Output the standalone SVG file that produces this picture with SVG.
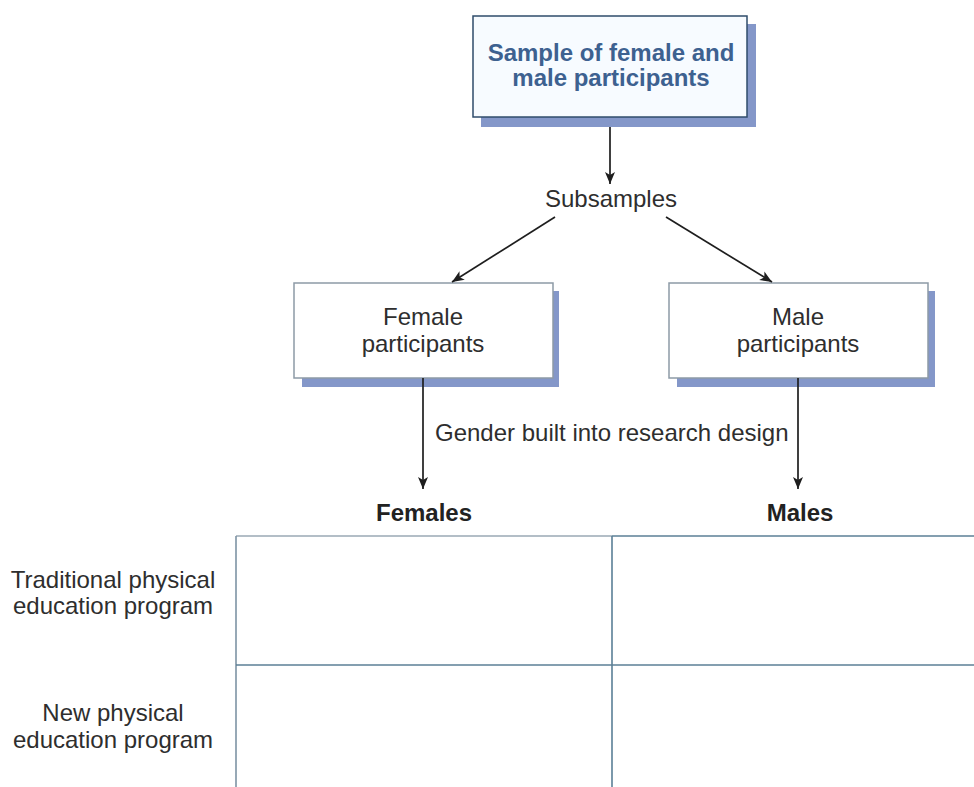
<svg xmlns="http://www.w3.org/2000/svg" width="974" height="787" viewBox="0 0 974 787">
<style>
  text { font-family: "Liberation Sans", Arial, sans-serif; fill: #2e2e2e; }
  .t { font-size: 24px; text-anchor: middle; }
  .title { font-size: 24px; font-weight: bold; fill: #3d6190; text-anchor: middle; }
  .hdr { font-size: 24px; font-weight: bold; text-anchor: middle; fill: #222; }
  .shadow { fill: #8497c9; }
  .box { fill: #ffffff; stroke: #8d9aa6; stroke-width: 1.5; }
  .topbox { fill: #f7fbff; stroke: #2f4c6b; stroke-width: 1.5; }
  .conn { stroke: #1e1e1e; stroke-width: 1.7; fill: none; marker-end: url(#arr); }
  .grid { stroke: #5b7f96; stroke-width: 1.6; fill: none; }
</style>
<defs>
  <marker id="arr" markerWidth="14" markerHeight="14" refX="12" refY="6" orient="auto" markerUnits="userSpaceOnUse">
    <path d="M0,1 L12,6 L0,11 L3,6 Z" fill="#1e1e1e"/>
  </marker>
</defs>
<rect width="974" height="787" fill="#ffffff"/>

<g id="sample">
  <rect class="shadow" x="481" y="24" width="275" height="103"/>
  <rect class="topbox" x="473" y="16" width="274" height="101"/>
  <text class="title" x="611" y="61">Sample of female and</text>
  <text class="title" x="611" y="86">male participants</text>
</g>

<g id="subsamples">
  <text class="t" x="611" y="207">Subsamples</text>
</g>

<g id="female">
  <rect class="shadow" x="302" y="291" width="257" height="96"/>
  <rect class="box" x="294" y="283" width="259" height="95"/>
  <text class="t" x="423" y="325">Female</text>
  <text class="t" x="423" y="352">participants</text>
</g>

<g id="male">
  <rect class="shadow" x="677" y="291" width="258" height="96"/>
  <rect class="box" x="669" y="283" width="259" height="95"/>
  <text class="t" x="798" y="325">Male</text>
  <text class="t" x="798" y="352">participants</text>
</g>

<g id="gender-label">
  <text x="435" y="441" style="font-size:24px">Gender built into research design</text>
</g>

<g id="females-header"><text class="hdr" x="424" y="521">Females</text></g>
<g id="males-header"><text class="hdr" x="800" y="521">Males</text></g>

<g id="row1-label">
  <text class="t" x="113" y="588">Traditional physical</text>
  <text class="t" x="113" y="614">education program</text>
</g>
<g id="row2-label">
  <text class="t" x="113" y="721">New physical</text>
  <text class="t" x="113" y="748">education program</text>
</g>

<g id="table">
  <line class="grid" x1="236" y1="536" x2="612" y2="536" style="stroke:#9aa8b4"/>
  <line class="grid" x1="612" y1="536" x2="974" y2="536"/>
  <line class="grid" x1="236" y1="536" x2="236" y2="787" style="stroke:#7d93a4"/>
  <line class="grid" x1="612" y1="536" x2="612" y2="787"/>
  <line class="grid" x1="236" y1="665" x2="974" y2="665"/>
</g>

<g id="connectors">
  <line class="conn" x1="610" y1="127" x2="610" y2="184"/>
  <line class="conn" x1="555" y1="217" x2="452" y2="282"/>
  <line class="conn" x1="666" y1="217" x2="772" y2="282"/>
  <line class="conn" x1="423" y1="378" x2="423" y2="489"/>
  <line class="conn" x1="798" y1="378" x2="798" y2="489"/>
</g>
</svg>
